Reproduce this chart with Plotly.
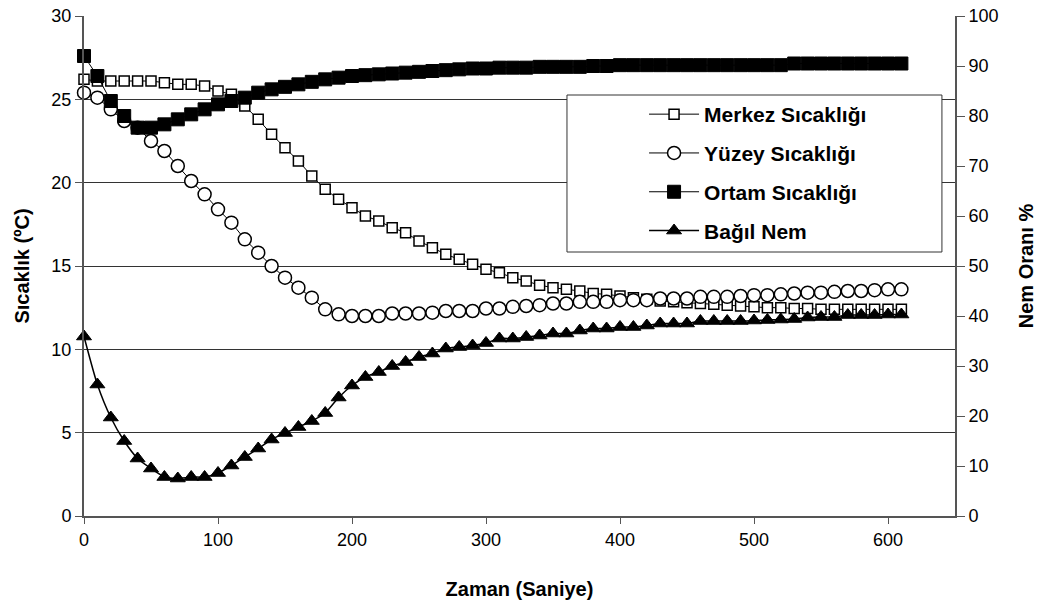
import plotly.graph_objects as go

zaman = list(range(0, 620, 10))

merkez = [26.2, 26.1, 26.1, 26.1, 26.1, 26.1, 26.0, 25.9, 25.9, 25.8,
          25.5, 25.3, 24.6, 23.8, 22.9, 22.1, 21.3, 20.4, 19.6, 19.0,
          18.5, 18.0, 17.7, 17.3, 17.0, 16.5, 16.1, 15.7, 15.4, 15.1,
          14.8, 14.6, 14.3, 14.1, 13.85, 13.7, 13.6, 13.5, 13.35, 13.3,
          13.2, 13.1, 13.0, 12.9, 12.85, 12.8, 12.75, 12.7, 12.65, 12.6,
          12.55, 12.5, 12.5, 12.45, 12.45, 12.4, 12.4, 12.4, 12.4, 12.4,
          12.4, 12.4]

yuzey = [25.4, 25.1, 24.4, 23.7, 23.3, 22.5, 21.9, 21.0, 20.1, 19.3,
         18.4, 17.6, 16.6, 15.8, 15.0, 14.3, 13.7, 13.1, 12.4, 12.1,
         12.0, 12.0, 12.0, 12.15, 12.15, 12.15, 12.2, 12.3, 12.3, 12.3,
         12.45, 12.45, 12.55, 12.6, 12.65, 12.75, 12.75, 12.85, 12.85, 12.85,
         12.95, 12.95, 12.95, 13.05, 13.05, 13.05, 13.15, 13.15, 13.15, 13.2,
         13.25, 13.25, 13.3, 13.35, 13.4, 13.4, 13.45, 13.5, 13.5, 13.55,
         13.6, 13.6]

ortam = [27.6, 26.4, 24.9, 24.0, 23.3, 23.3, 23.5, 23.8, 24.1, 24.4,
         24.7, 24.9, 25.1, 25.4, 25.6, 25.75, 25.9, 26.05, 26.2, 26.3,
         26.4, 26.45, 26.5, 26.55, 26.6, 26.65, 26.7, 26.75, 26.8, 26.85,
         26.85, 26.9, 26.9, 26.9, 26.95, 26.95, 26.95, 26.95, 27.0, 27.0,
         27.05, 27.05, 27.05, 27.05, 27.05, 27.05, 27.05, 27.05, 27.05, 27.05,
         27.05, 27.05, 27.05, 27.15, 27.15, 27.15, 27.15, 27.15, 27.15, 27.15,
         27.15, 27.15]

bagil_nem = [35.9, 26.3, 19.7, 15.0, 11.5, 9.5, 7.8, 7.5, 7.8, 7.8,
             8.6, 10.1, 11.8, 13.5, 15.3, 16.6, 17.8, 19.0, 20.6, 23.7,
             26.1, 27.8, 28.8, 30.0, 30.8, 31.8, 32.5, 33.5, 33.8, 34.1,
             34.6, 35.5, 35.5, 35.8, 36.1, 36.5, 36.5, 37.1, 37.5, 37.5,
             37.8, 37.8, 38.1, 38.5, 38.5, 38.5, 39.0, 39.0, 39.0, 39.0,
             39.1, 39.2, 39.3, 39.4, 39.7, 39.8, 39.8, 40.2, 40.2, 40.2,
             40.3, 40.3]

FONT = "Liberation Sans, Arial, sans-serif"

fig = go.Figure()
fig.add_trace(go.Scatter(
    x=zaman, y=merkez, name="Merkez Sıcaklığı", mode="lines+markers", legendgroup="a",
    line=dict(color="black", width=1),
    marker=dict(symbol="square", size=10, color="white", line=dict(color="black", width=1.5)),
    cliponaxis=False))
fig.add_trace(go.Scatter(
    x=zaman, y=yuzey, name="Yüzey Sıcaklığı", mode="lines+markers", legendgroup="b",
    line=dict(color="black", width=1),
    marker=dict(symbol="circle", size=13, color="white", line=dict(color="black", width=1.5)),
    cliponaxis=False))
fig.add_trace(go.Scatter(
    x=zaman, y=ortam, name="Ortam Sıcaklığı", mode="lines+markers", legendgroup="c",
    line=dict(color="black", width=1),
    marker=dict(symbol="square", size=13, color="black", line=dict(color="black", width=1)),
    cliponaxis=False))
fig.add_trace(go.Scatter(
    x=zaman, y=bagil_nem, name="Bağıl Nem", mode="lines+markers", yaxis="y2", legendgroup="d",
    line=dict(color="black", width=1.5, shape="spline", smoothing=0.6),
    marker=dict(symbol="triangle-up", size=13, color="black", line=dict(color="black", width=1)),
    cliponaxis=False))

# legend frame (decorative box behind the legend entries)
fig.add_shape(type="rect", xref="paper", yref="paper",
              x0=0.5545, x1=0.985, y0=0.528, y1=0.842,
              fillcolor="white", line=dict(color="#333", width=1), layer="above")

fig.update_layout(
    width=1042, height=607,
    margin=dict(l=84, r=87, t=16, b=91, autoexpand=False),
    paper_bgcolor="white", plot_bgcolor="white",
    font=dict(family=FONT, size=18, color="black"),
    showlegend=True,
    legend=dict(
        x=0.643, y=0.844, xanchor="left", yanchor="top",
        bgcolor="rgba(0,0,0,0)", borderwidth=0,
        font=dict(family=FONT, size=21, color="black", weight="bold"),
        itemwidth=50, tracegroupgap=8.5, traceorder="grouped",
    ),
    xaxis=dict(
        range=[0, 650], dtick=100, tick0=0, automargin=False,
        showgrid=False, zeroline=False,
        showline=True, linecolor="#555", linewidth=2,
        ticks="outside", ticklen=6, tickcolor="#555",
        tickfont=dict(size=18),
        title=dict(text="Zaman (Saniye)", font=dict(size=20, weight="bold"), standoff=33),
    ),
    yaxis=dict(
        range=[0, 30], dtick=5, tick0=0, automargin=False,
        showgrid=True, gridcolor="#333", gridwidth=1,
        zeroline=False,
        showline=True, linecolor="#555", linewidth=2,
        ticks="outside", ticklen=7, tickcolor="#555",
        tickfont=dict(size=18),
        title=dict(text="Sıcaklık (ºC)", font=dict(size=20, weight="bold"), standoff=16),
    ),
    yaxis2=dict(
        range=[0, 100], dtick=10, tick0=0, automargin=False,
        overlaying="y", side="right", anchor="x",
        showgrid=False, zeroline=False,
        showline=True, linecolor="#555", linewidth=2,
        ticks="outside", ticklen=8, tickcolor="#555",
        tickfont=dict(size=18),
        title=dict(text="Nem Oranı %", font=dict(size=20, weight="bold"), standoff=21),
    ),
)

fig.write_html("out.html")
